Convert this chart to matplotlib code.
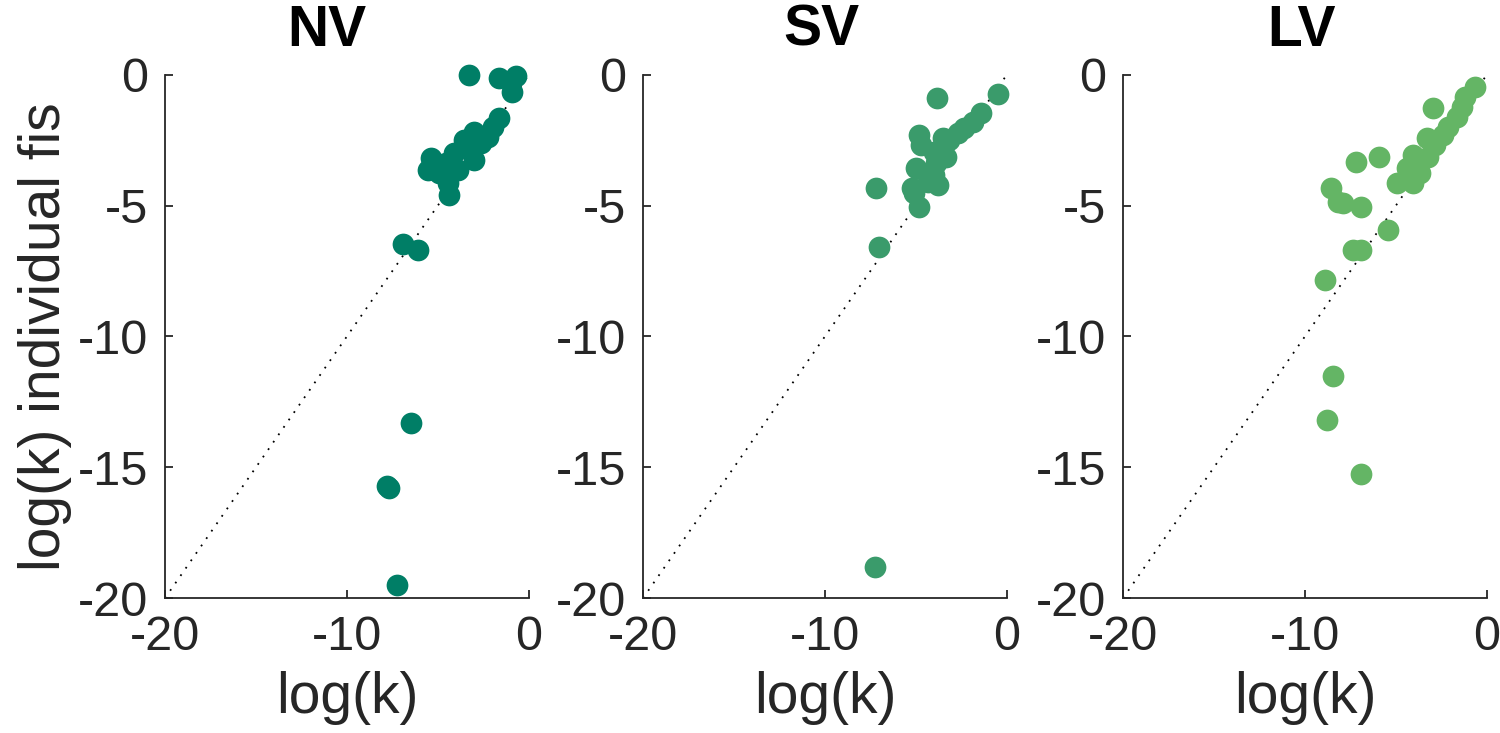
import matplotlib
matplotlib.use("Agg")
import matplotlib.pyplot as plt

plt.rcParams['font.family'] = ['Liberation Sans', 'DejaVu Sans']

titles = ["NV", "SV", "LV"]
colors = ["#007e66", "#3a9b6b", "#64b565"]

nv_x = [-3.3, -1.65, -0.72, -0.94, -1.65, -1.98, -3.03, -2.64, -3.2, -4.13, -5.4, -5.56,
        -4.57, -3.9, -3.03, -4.46, -4.4, -4.96, -3.58, -2.26,
        -6.94, -6.1, -6.5, -7.8, -7.7, -7.27]
nv_y = [0.0, -0.11, -0.04, -0.65, -1.64, -1.99, -2.18, -2.6, -2.87, -2.98, -3.17, -3.63,
        -3.37, -3.63, -3.25, -4.13, -4.59, -3.75, -2.49, -2.37,
        -6.46, -6.7, -13.3, -15.7, -15.8, -19.5]

sv_x = [-3.86, -0.5, -1.43, -1.87, -2.37, -2.7, -3.2, -3.5, -4.85, -4.74, -4.0, -3.36,
        -3.9, -5.0, -4.0, -4.35, -3.8, -5.2, -5.1, -4.85, -7.2, -7.05, -7.27]
sv_y = [-0.88, -0.73, -1.45, -1.8, -2.03, -2.22, -2.49, -2.41, -2.29, -2.68, -2.94, -3.14,
        -3.37, -3.56, -3.82, -4.09, -4.2, -4.32, -4.5, -5.05, -4.32, -6.58, -18.8]

lv_x = [-0.66, -1.21, -1.38, -2.97, -1.65, -2.15, -2.42, -3.3, -2.86, -4.08, -3.25, -4.4,
        -3.7, -4.96, -4.08, -4.4, -5.9, -7.2, -8.54, -8.2, -7.93, -6.9, -5.45, -7.38,
        -6.9, -8.9, -8.43, -8.8, -6.94]
lv_y = [-0.46, -0.84, -1.22, -1.26, -1.6, -1.99, -2.3, -2.41, -2.68, -3.06, -3.14, -3.56,
        -3.75, -4.13, -4.13, -3.9, -3.14, -3.33, -4.32, -4.86, -4.9, -5.05, -5.93, -6.69,
        -6.69, -7.85, -11.5, -13.2, -15.26]

xs = [nv_x, sv_x, lv_x]
ys = [nv_y, sv_y, lv_y]

xticks = [-20, -10, 0]
yticks = [-20, -15, -10, -5, 0]

fig = plt.figure(figsize=(15, 7.33), dpi=100)
lefts = [0.110, 0.4287, 0.7487]
title_x = [0.445, 0.49, 0.49]
axes = []
for i in range(3):
    ax = fig.add_axes([lefts[i], 0.184, 0.2425, 0.714])
    ax.plot([-20, 0], [-20, 0], linestyle=(0, (1, 4)), color='black', lw=1.3, zorder=1)
    ax.scatter(xs[i], ys[i], s=245, color=colors[i], linewidths=0, zorder=2, clip_on=False)
    ax.set_xlim(-20, 0)
    ax.set_ylim(-20, 0)
    ax.set_xticks(xticks)
    ax.set_yticks(yticks)
    ax.set_xticklabels([str(t) for t in xticks])
    ax.set_yticklabels([str(t) for t in yticks])
    for s in ['top', 'right']:
        ax.spines[s].set_visible(False)
    for s in ['left', 'bottom']:
        ax.spines[s].set_color('#262626')
        ax.spines[s].set_linewidth(1.3)
    ax.tick_params(direction='in', length=6, width=1.3, colors='#262626',
                   labelsize=35, pad=12, labelcolor='#262626')
    ax.set_title(titles[i], fontsize=41, fontweight='bold', pad=21, x=title_x[i])
    ax.set_xlabel("log(k)", fontsize=41, color='#262626', labelpad=8)
    axes.append(ax)

axes[0].set_ylabel("log(k) individual fis", fontsize=41, color='#262626', labelpad=4)

fig.savefig("out.png", dpi=100)
